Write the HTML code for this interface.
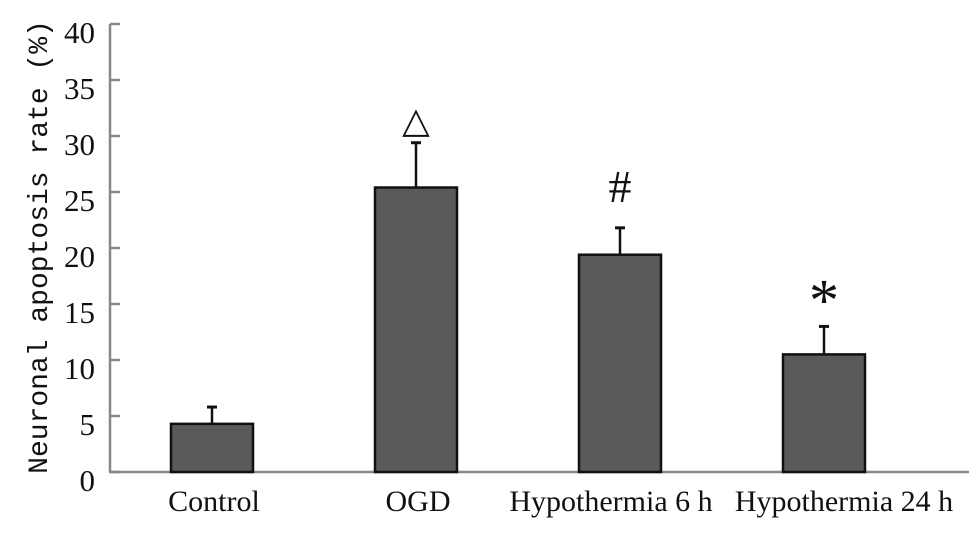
<!DOCTYPE html>
<html><head><meta charset="utf-8"><style>
html,body{margin:0;padding:0;background:#fff;width:969px;height:535px;overflow:hidden}
svg text{font-family:"Liberation Serif",serif;fill:#111}
</style></head><body>
<svg id="chart" width="969" height="535" xmlns="http://www.w3.org/2000/svg"></svg>
<script>
const categories = ["Control","OGD","Hypothermia 6 h","Hypothermia 24 h"];
const values = [4.3, 25.4, 19.4, 10.5];
const errors = [1.5, 4.0, 2.4, 2.5];
const markers = ["", "\u25B3", "#", "*"];
const yTicks = [0,5,10,15,20,25,30,35,40];

const svg = document.getElementById('chart');
const NS = "http://www.w3.org/2000/svg";
const y0 = 472, yTop = 24, yMax = 40;
function yScale(v){ return y0 - (v / yMax) * (y0 - yTop); }
function xCenter(i){ return 212 + i * 204; }
function labelCenter(i){ const n = categories.length; return xCenter(i) + (i === n-1 ? 20 : (i === n-2 ? -9 : 2)); }
const barW = 82;
function mk(tag, attrs){ const e = document.createElementNS(NS, tag); for (const k in attrs) e.setAttribute(k, attrs[k]); svg.appendChild(e); return e; }

const ya = mk('line',{x1:110,y1:yTop,x2:110,y2:y0,stroke:'#888','stroke-width':2.5});


const xa = mk('line',{x1:109,y1:y0,x2:969,y2:y0,stroke:'#888','stroke-width':2.5});



yTicks.forEach(t=>{
  const y = yScale(t);
  const tk = mk('line',{x1:110,y1:y,x2:120,y2:y,stroke:'#888','stroke-width':2.5});
  
  
  const lb = mk('text',{x:95,y:y+19,'text-anchor':'end','font-size':31});
  lb.textContent = t;
  
  
});

const yt = mk('text',{x:0,y:0,'text-anchor':'middle','font-size':28,transform:'translate(47,247) rotate(-90)'});
yt.style.fontFamily='"Liberation Mono", monospace';
yt.textContent = 'Neuronal apoptosis rate (%)';



categories.forEach((c,i)=>{
  const cx = xCenter(i), top = yScale(values[i]), et = yScale(values[i]+errors[i]);
  const el = mk('line',{x1:cx,y1:top,x2:cx,y2:et,stroke:'#111','stroke-width':2.5});
  
  
  const cap = mk('line',{x1:cx-5,y1:et,x2:cx+5,y2:et,stroke:'#111','stroke-width':3});
  
  
  const r = mk('rect',{x:cx-barW/2,y:top,width:barW,height:y0-top,fill:'#5a5a5a',stroke:'#111','stroke-width':2.5});
  
  
  const lb = mk('text',{x:labelCenter(i),y:511,'text-anchor':'middle','font-size':30});
  lb.textContent = c;
  
  
  if (markers[i]) {
    const fs = markers[i]==='*' ? 60 : (markers[i]==='#' ? 46 : 36);
    const off = markers[i]==='*' ? 6 : (markers[i]==='#' ? 26 : 10);
    const m = mk('text',{x:cx,y:et-off,'text-anchor':'middle','font-size':fs,'fill':markers[i]==='\u25B3'?'#555':'#111'});
    m.textContent = markers[i];
    
    
  }
});
</script>
</body></html>
